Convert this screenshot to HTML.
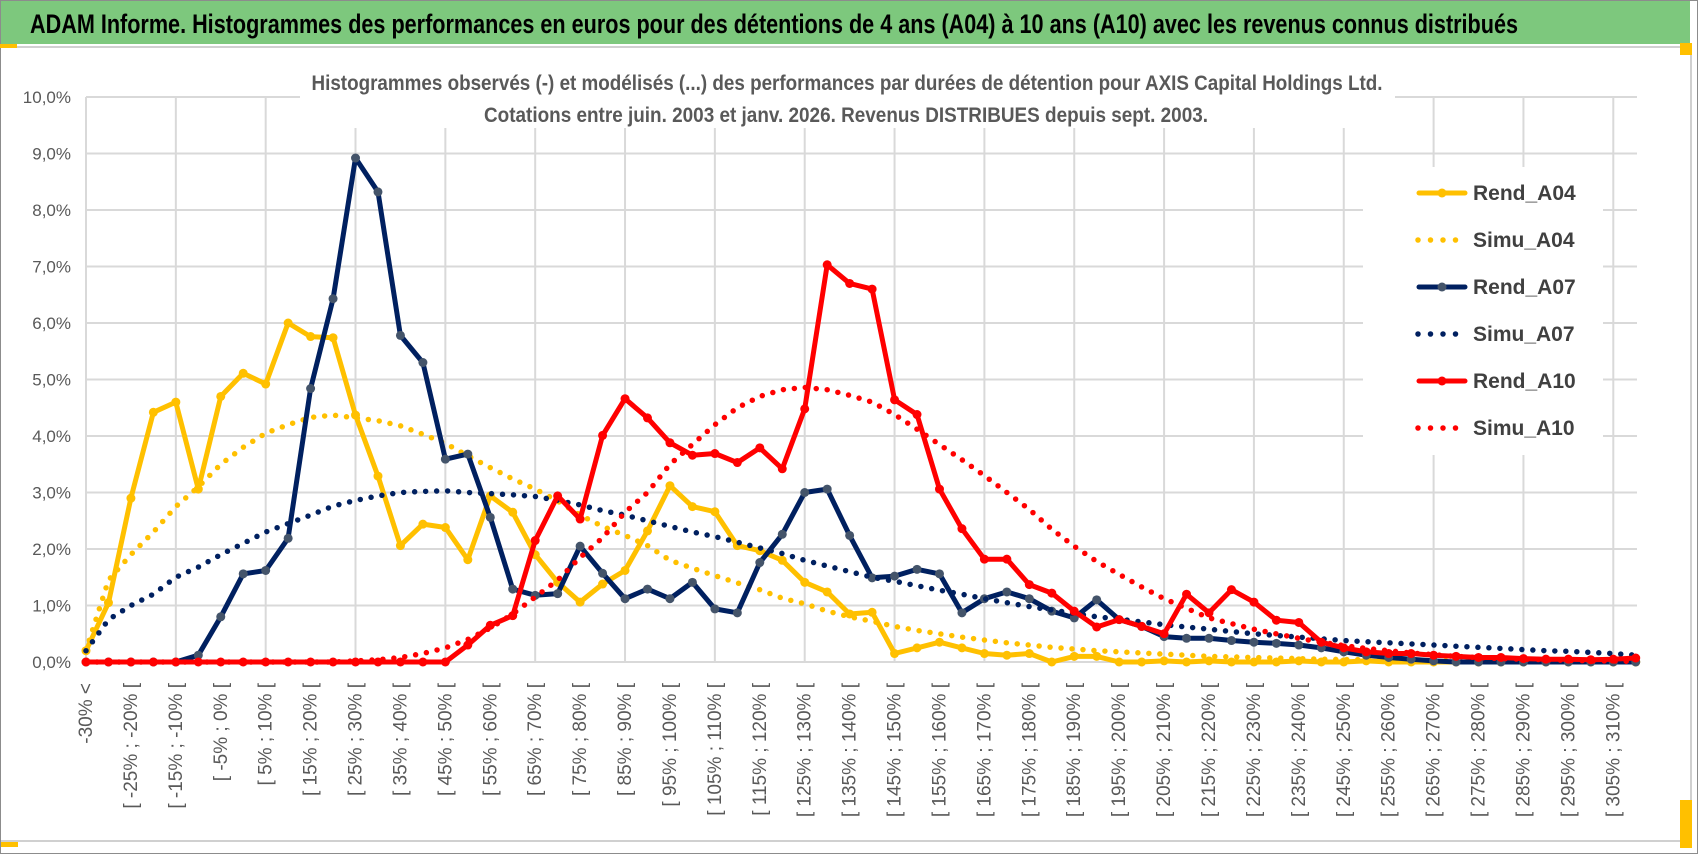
<!DOCTYPE html>
<html><head><meta charset="utf-8"><style>
html,body{margin:0;padding:0;background:#fff;}
svg{display:block;font-family:"Liberation Sans Narrow","Liberation Sans",sans-serif;}
</style></head><body>
<svg id="chart" width="1698" height="854" viewBox="0 0 1698 854" xmlns="http://www.w3.org/2000/svg">
<rect x="0.5" y="0.5" width="1697" height="853" fill="#fff" stroke="#8c8c8c"/>
<rect x="1" y="1" width="1689" height="43" fill="#7dc87d"/>
<line x1="1" y1="47" x2="1690" y2="47" stroke="#d0d0d0" stroke-width="2"/>
<line x1="1691" y1="44" x2="1691" y2="842" stroke="#d0d0d0" stroke-width="2"/>
<line x1="1" y1="841" x2="1691" y2="841" stroke="#d0d0d0" stroke-width="2"/>
<rect x="0" y="44" width="17" height="4" fill="#ffc000"/>
<rect x="1680" y="43" width="12" height="12" fill="#ffc000"/>
<rect x="1" y="842" width="17" height="5" fill="#ffc000"/>
<rect x="1680" y="800" width="12" height="48" fill="#ffc000"/>
<text x="30" y="33" font-size="27" font-weight="bold" fill="#000" textLength="1488" lengthAdjust="spacingAndGlyphs">ADAM Informe. Histogrammes des performances en euros pour des détentions de 4 ans (A04) à 10 ans (A10) avec les revenus connus distribués</text>
<g id="grid"></g>
<rect x="300" y="62" width="1095" height="66" fill="#fff"/>
<text x="847" y="90" text-anchor="middle" font-size="21" font-weight="bold" fill="#595959" textLength="1071" lengthAdjust="spacingAndGlyphs">Histogrammes observés (-) et modélisés (...) des performances par durées de détention pour AXIS Capital Holdings Ltd.</text>
<text x="846" y="122" text-anchor="middle" font-size="21" font-weight="bold" fill="#595959" textLength="724" lengthAdjust="spacingAndGlyphs">Cotations entre juin. 2003 et janv. 2026. Revenus DISTRIBUES depuis sept. 2003.</text>
<g id="yaxis"></g>
<g id="xaxis"></g>
<g id="series"></g>
<g id="legend"></g>
</svg>
<script>
const yTicks = [0,1,2,3,4,5,6,7,8,9,10];
const categories = [];
categories.push('-30% <');
for (let k = 1; k < 70; k++) { const lo = -30 + 5 * (k - 1); categories.push('[ ' + lo + '% ; ' + (lo + 5) + '% ['); }

const rendA04 = [0.2,1.05,2.9,4.42,4.6,3.06,4.7,5.11,4.92,6.0,
 5.76,5.74,4.37,3.29,2.06,2.44,2.38,1.81,2.94,2.65,
 1.9,1.41,1.06,1.38,1.62,2.32,3.12,2.75,2.66,2.06,
 1.97,1.8,1.41,1.24,0.85,0.88,0.15,0.25,0.35,0.25,
 0.15,0.12,0.15,0.0,0.1,0.1,0.0,0.0,0.02,0.0,
 0.02,0.0,0.0,0.0,0.02,0.0,0.0,0.02,0.0,0.0,
 0.0,0.0,0.0,0.0,0.0,0.0,0.0,0.0,0.0,0.0];
const simuA04 = [0.2,1.45,1.9,2.3,2.75,3.1,3.5,3.8,4.05,4.2,
 4.33,4.37,4.32,4.27,4.18,4.03,3.87,3.65,3.44,3.24,
 3.06,2.85,2.6,2.4,2.24,2.06,1.8,1.66,1.53,1.4,
 1.28,1.13,1.03,0.9,0.8,0.72,0.63,0.56,0.5,0.44,
 0.39,0.34,0.3,0.26,0.23,0.2,0.18,0.16,0.14,0.12,
 0.1,0.09,0.08,0.07,0.06,0.05,0.045,0.04,0.035,0.03,
 0.025,0.02,0.02,0.015,0.015,0.01,0.01,0.01,0.01,0.005];
const rendA07 = [0,0,0,0,0,0.12,0.8,1.56,1.62,2.19,
 4.84,6.43,8.92,8.32,5.78,5.3,3.59,3.68,2.56,1.29,
 1.18,1.21,2.05,1.57,1.12,1.29,1.12,1.41,0.94,0.87,
 1.76,2.26,3.0,3.06,2.24,1.49,1.52,1.64,1.56,0.87,
 1.12,1.24,1.12,0.9,0.78,1.1,0.75,0.63,0.45,0.42,
 0.42,0.38,0.35,0.33,0.3,0.25,0.18,0.12,0.08,0.05,
 0.02,0,0,0,0,0,0,0,0,0];
const simuA07 = [0.2,0.75,1.0,1.2,1.5,1.68,1.9,2.1,2.3,2.45,
 2.6,2.76,2.86,2.94,3.0,3.02,3.03,3.0,2.98,2.96,
 2.93,2.86,2.78,2.68,2.6,2.5,2.4,2.3,2.22,2.12,
 2.02,1.92,1.8,1.7,1.6,1.5,1.43,1.35,1.27,1.2,
 1.12,1.05,0.98,0.92,0.86,0.8,0.76,0.71,0.66,0.62,
 0.58,0.54,0.5,0.47,0.44,0.41,0.38,0.36,0.34,0.32,
 0.3,0.28,0.26,0.24,0.22,0.2,0.19,0.17,0.15,0.12];
const rendA10 = [0,0,0,0,0,0,0,0,0,0,
 0,0,0,0,0,0,0,0.3,0.65,0.82,
 2.15,2.94,2.53,4.01,4.66,4.32,3.88,3.66,3.69,3.53,
 3.79,3.42,4.48,7.03,6.7,6.6,4.64,4.38,3.06,2.36,
 1.82,1.82,1.37,1.22,0.9,0.62,0.75,0.63,0.5,1.2,
 0.87,1.28,1.06,0.74,0.7,0.35,0.25,0.18,0.15,0.15,
 0.12,0.1,0.08,0.08,0.06,0.05,0.05,0.04,0.05,0.07];
const simuA10 = [0,0,0,0,0,0,0,0,0,0,
 0,0,0.02,0.04,0.08,0.15,0.25,0.4,0.6,0.85,
 1.15,1.45,1.85,2.2,2.65,3.0,3.5,3.85,4.2,4.5,
 4.7,4.82,4.86,4.82,4.72,4.6,4.38,4.12,3.85,3.58,
 3.3,3.0,2.7,2.35,2.05,1.78,1.55,1.33,1.12,0.95,
 0.78,0.68,0.58,0.5,0.42,0.35,0.29,0.24,0.2,0.16,
 0.13,0.1,0.08,0.06,0.05,0.04,0.03,0.02,0.02,0.01];

const NS = 'http://www.w3.org/2000/svg';
const X0 = 86, DX = 22.46, Y0 = 662, PY = 56.5;
function xScale(i){ return X0 + DX * i; }
function yScale(v){ return Y0 - PY * v; }
function mk(tag, attrs, parent){ const e = document.createElementNS(NS, tag); for (const k in attrs) e.setAttribute(k, attrs[k]); parent.appendChild(e); return e; }

const grid = document.getElementById('grid');
yTicks.forEach(function(t){
  const l = mk('line', {x1: X0, x2: 1637, y1: yScale(t), y2: yScale(t), stroke: '#d9d9d9', 'stroke-width': 2}, grid);
  
  
});
for (let i = 0; i < categories.length; i += 4) {
  const l = mk('line', {x1: xScale(i), x2: xScale(i), y1: yScale(10), y2: yScale(0), stroke: '#d9d9d9', 'stroke-width': 2}, grid);
  
  
}

const yaxis = document.getElementById('yaxis');
yTicks.forEach(function(t){
  const tx = mk('text', {x: 71, y: yScale(t) + 6, 'text-anchor': 'end', 'font-size': 17, fill: '#595959'}, yaxis);
  tx.textContent = t.toFixed(1).replace('.', ',') + '%';
  
  
});

const xaxis = document.getElementById('xaxis');
categories.forEach(function(c, i){
  if (i % 2 !== 0) return;
  const x = xScale(i) + 6, y = 683;
  const tx = mk('text', {x: x, y: y, 'text-anchor': 'end', 'font-size': 19, fill: '#595959', transform: 'rotate(-90 ' + x + ' ' + y + ')'}, xaxis);
  tx.textContent = c;
  
  
});

const seriesG = document.getElementById('series');
function pathFor(vals){ return vals.map(function(v, i){ return (i ? 'L' : 'M') + xScale(i).toFixed(1) + ' ' + yScale(v).toFixed(1); }).join(' '); }
function drawRend(vals, color, mcolor, name){
  const g = mk('g', {}, seriesG);
  
  
  const p = mk('path', {d: pathFor(vals), fill: 'none', stroke: color, 'stroke-width': 5, 'stroke-linejoin': 'round'}, g);
  
  
  vals.forEach(function(v, i){
    const c = mk('circle', {cx: xScale(i), cy: yScale(v), r: 4.5, fill: mcolor}, g);
    
    
  });
}
function drawSimu(vals, color, name){
  const p = mk('path', {d: pathFor(vals), fill: 'none', stroke: color, 'stroke-width': 5.5, 'stroke-linecap': 'round', 'stroke-dasharray': '0 11'}, seriesG);
  
  
}
drawRend(rendA04, '#ffc000', '#ffc000', 'rend-a04');
drawSimu(simuA04, '#ffc000', 'simu-a04');
drawRend(rendA07, '#002060', '#44546a', 'rend-a07');
drawSimu(simuA07, '#002060', 'simu-a07');
drawRend(rendA10, '#ff0000', '#ff0000', 'rend-a10');
drawSimu(simuA10, '#ff0000', 'simu-a10');

const legend = document.getElementById('legend');
const lbg = mk('rect', {x: 1363, y: 167, width: 240, height: 288, fill: '#fff'}, legend);


const legendNames = ['Rend_A04','Simu_A04','Rend_A07','Simu_A07','Rend_A10','Simu_A10'];
const legendColors = ['#ffc000','#ffc000','#002060','#002060','#ff0000','#ff0000'];
const legendMarkers = ['#ffc000',null,'#44546a',null,'#ff0000',null];
legendNames.forEach(function(n, i){
  const y = 193 + 47 * i;
  const g = mk('g', {}, legend);
  
  
  if (legendMarkers[i]) {
    mk('line', {x1: 1419, x2: 1465, y1: y, y2: y, stroke: legendColors[i], 'stroke-width': 5, 'stroke-linecap': 'round'}, g);
    mk('circle', {cx: 1442, cy: y, r: 4.5, fill: legendMarkers[i]}, g);
  } else {
    mk('line', {x1: 1418, x2: 1456, y1: y, y2: y, stroke: legendColors[i], 'stroke-width': 5.5, 'stroke-linecap': 'round', 'stroke-dasharray': '0 12.5'}, g);
  }
  const t = mk('text', {x: 1473, y: y + 7, 'font-size': 21, 'font-weight': 'bold', fill: '#404040'}, g);
  t.textContent = n;
});
</script>
</body></html>
